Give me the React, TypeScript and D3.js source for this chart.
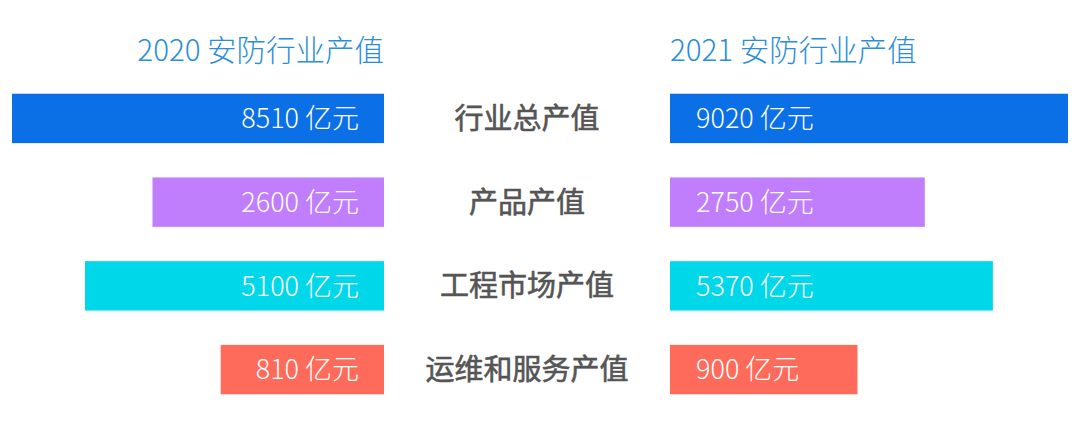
import React from "react";
import * as d3 from "d3";

const categories = ["行业总产值", "产品产值", "工程市场产值", "运维和服务产值"];
const values2020 = [8510, 2600, 5100, 810];
const values2021 = [9020, 2750, 5370, 900];
const titles = ["2020 安防行业产值", "2021 安防行业产值"];
const unit = "亿元";
const colors = ["#0b6fe6", "#c07dfc", "#00d8ea", "#ff6b5b"];

const W = 1080;
const H = 434;
const leftEdge = 384;
const rightEdge = 670;
const centerX = 527;

export default function App() {
  const y = d3
    .scaleBand<string>()
    .domain(categories)
    .range([77, 411])
    .paddingInner(0.41)
    .paddingOuter(0.2);

  const leftScale = d3
    .scalePow()
    .exponent(0.6)
    .domain([0, d3.max(values2020) as number])
    .range([96, 372]);
  const rightScale = d3
    .scalePow()
    .exponent(0.6)
    .domain([0, d3.max(values2021) as number])
    .range([117, 398]);

  const valueFont = "'Noto Sans CJK SC', 'Noto Sans', sans-serif";

  return (
    <div style={{ position: "absolute", left: 0, top: 0 }}>
      <svg width={W} height={H} style={{ display: "block", background: "#fff" }}>
        <text
          x={leftEdge}
          y={61}
          textAnchor="end"
          fontFamily={valueFont}
          fontWeight={300}
          fontSize={29.5}
          fill="#2a8ed8"
        >
          {titles[0]}
        </text>
        <text
          x={rightEdge}
          y={61}
          textAnchor="start"
          fontFamily={valueFont}
          fontWeight={300}
          fontSize={29.5}
          fill="#2a8ed8"
        >
          {titles[1]}
        </text>
        {categories.map((c, i) => {
          const y0 = y(c) as number;
          const bh = y.bandwidth();
          const wl = leftScale(values2020[i]);
          const wr = rightScale(values2021[i]);
          const cy = y0 + bh / 2;
          return (
            <g key={c}>
              <rect x={leftEdge - wl} y={y0} width={wl} height={bh} fill={colors[i]} />
              <rect x={rightEdge} y={y0} width={wr} height={bh} fill={colors[i]} />
              <text
                x={leftEdge - 25}
                y={cy}
                dy="0.36em"
                textAnchor="end"
                fontFamily={valueFont}
                fontWeight={300}
                fontSize={27}
                fill="#ffffff"
              >
                {`${values2020[i]} ${unit}`}
              </text>
              <text
                x={rightEdge + 26}
                y={cy}
                dy="0.36em"
                textAnchor="start"
                fontFamily={valueFont}
                fontWeight={300}
                fontSize={27}
                fill="#ffffff"
              >
                {`${values2021[i]} ${unit}`}
              </text>
              <text
                x={centerX}
                y={cy}
                dy="0.36em"
                textAnchor="middle"
                fontFamily={valueFont}
                fontWeight={400}
                fontSize={29}
                fill="#555555"
                stroke="#555555"
                strokeWidth={0.6}
              >
                {c}
              </text>
            </g>
          );
        })}
      </svg>
    </div>
  );
}
